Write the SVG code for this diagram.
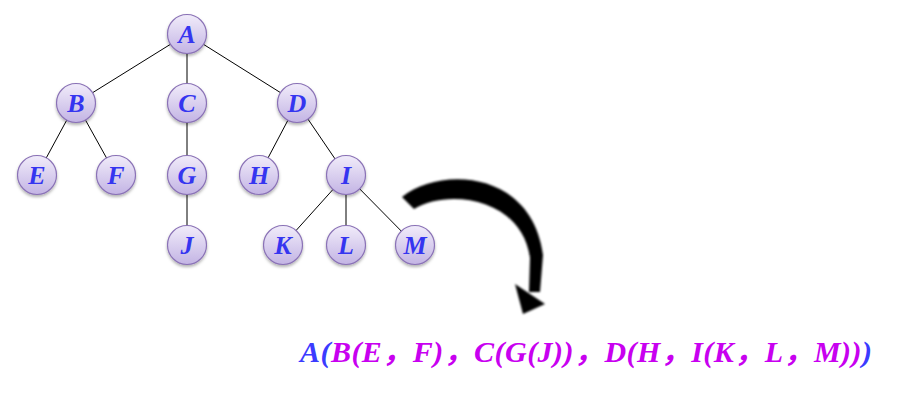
<svg xmlns="http://www.w3.org/2000/svg" width="907" height="408" viewBox="0 0 907 408">
<defs>
<linearGradient id="ng" x1="0" y1="0" x2="0" y2="1">
<stop offset="0" stop-color="#f1ecfa"/>
<stop offset="1" stop-color="#c3b4e4"/>
</linearGradient>
<filter id="sh" x="-30%" y="-30%" width="160%" height="170%">
<feDropShadow dx="0" dy="2" stdDeviation="1.5" flood-color="#000" flood-opacity="0.3"/>
</filter>
<filter id="bl" x="-10%" y="-10%" width="120%" height="120%">
<feGaussianBlur stdDeviation="0.8"/>
</filter>
</defs>
<style>
.n circle{fill:url(#ng);stroke:#8a72b6;stroke-width:1.2;filter:url(#sh)}
.n text{font-family:"Liberation Serif","Times New Roman",serif;font-weight:bold;font-style:italic;font-size:26px;fill:#3535f0;text-anchor:middle}
.e line{stroke:#000;stroke-width:1}
.f{font-family:"Liberation Serif","Noto Sans CJK SC",serif;font-weight:bold;font-style:italic;font-size:30px}
</style>
<rect width="907" height="408" fill="#fff"/>
<g id="edges" class="e">
<line x1="187" y1="34" x2="76" y2="103"/>
<line x1="187" y1="34" x2="187" y2="103"/>
<line x1="187" y1="34" x2="297" y2="103"/>
<line x1="76" y1="103" x2="37" y2="175"/>
<line x1="76" y1="103" x2="116" y2="175"/>
<line x1="187" y1="103" x2="187" y2="175"/>
<line x1="297" y1="103" x2="259" y2="175"/>
<line x1="297" y1="103" x2="346" y2="175"/>
<line x1="187" y1="175" x2="187" y2="245"/>
<line x1="346" y1="175" x2="283" y2="245"/>
<line x1="346" y1="175" x2="346" y2="245"/>
<line x1="346" y1="175" x2="415" y2="245"/>
</g>
<g id="A" class="n"><circle cx="187" cy="34" r="19.5"/><text x="187" y="43">A</text></g>
<g id="B" class="n"><circle cx="76" cy="103" r="19.5"/><text x="76" y="112">B</text></g>
<g id="C" class="n"><circle cx="187" cy="103" r="19.5"/><text x="187" y="112">C</text></g>
<g id="D" class="n"><circle cx="297" cy="103" r="19.5"/><text x="297" y="112">D</text></g>
<g id="E" class="n"><circle cx="37" cy="175" r="19.5"/><text x="37" y="184">E</text></g>
<g id="F" class="n"><circle cx="116" cy="175" r="19.5"/><text x="116" y="184">F</text></g>
<g id="G" class="n"><circle cx="187" cy="175" r="19.5"/><text x="187" y="184">G</text></g>
<g id="H" class="n"><circle cx="259" cy="175" r="19.5"/><text x="259" y="184">H</text></g>
<g id="I" class="n"><circle cx="346" cy="175" r="19.5"/><text x="346" y="184">I</text></g>
<g id="J" class="n"><circle cx="187" cy="245" r="19.5"/><text x="187" y="254">J</text></g>
<g id="K" class="n"><circle cx="283" cy="245" r="19.5"/><text x="283" y="254">K</text></g>
<g id="L" class="n"><circle cx="346" cy="245" r="19.5"/><text x="346" y="254">L</text></g>
<g id="M" class="n"><circle cx="415" cy="245" r="19.5"/><text x="415" y="254">M</text></g>
<g id="arrow" filter="url(#bl)" fill="#000">
<path d="M402,197 C440,166 532,170 543,255 L540,292 L529,292 L530,258 C522,198 448,188 414,209 Z"/>
<polygon points="515,284 545,304 523,314"/>
</g>
<text class="f" x="300" y="362" textLength="572" lengthAdjust="spacing"><tspan fill="#3b3bff">A(</tspan><tspan fill="#c800f0">B(E，F)，C(G(J))，D(H，I(K，L，M))</tspan><tspan fill="#3b3bff">)</tspan></text>
</svg>
